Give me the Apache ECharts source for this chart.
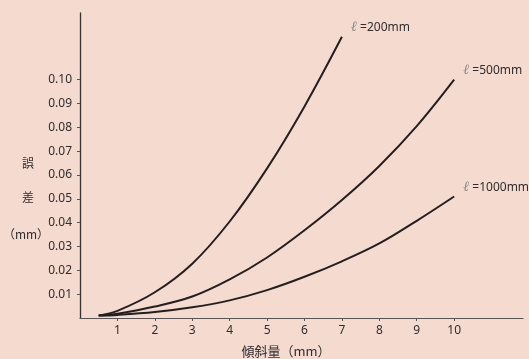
<!DOCTYPE html>
<html>
<head>
<meta charset="utf-8">
<script src="https://cdn.jsdelivr.net/npm/echarts@6/dist/echarts.min.js"></script>
<style>
  html, body { margin: 0; padding: 0; background: #f5dacf; }
  #chart { width: 529px; height: 359px; }
</style>
</head>
<body>
<div id="chart"></div>
<script>
// 傾斜量 (mm)
const tilt200 = [0.5, 1, 2, 3, 4, 5, 6, 7];
const tilt = [0.5, 1, 2, 3, 4, 5, 6, 7, 8, 9, 10];
// 誤差 (mm)
const err200 = [0.001, 0.003, 0.0108, 0.0228, 0.0405, 0.0628, 0.0888, 0.118];
const err500 = [0.001, 0.0018, 0.0048, 0.009, 0.0162, 0.0254, 0.0368, 0.0495, 0.0638, 0.0805, 0.1];
const err1000 = [0.001, 0.0013, 0.0025, 0.0045, 0.0074, 0.0117, 0.0173, 0.0238, 0.0313, 0.0408, 0.051];
const xTicks = [1, 2, 3, 4, 5, 6, 7, 8, 9, 10];
const yTicks = [0.01, 0.02, 0.03, 0.04, 0.05, 0.06, 0.07, 0.08, 0.09, 0.1];
const seriesNames = ["=200mm", "=500mm", "=1000mm"];

const textColor = "#2e2e2e";
const lineColor = "#231f20";

function pairs(xs, ys) {
  return xs.map((x, i) => [x, ys[i]]);
}

function lineSeries(name, data) {
  return {
    name: name,
    type: "line",
    data: data,
    smooth: 0.35,
    symbol: "none",
    lineStyle: { color: lineColor, width: 2 },
    endLabel: {
      show: true,
      distance: 0,
      offset: [9, -9],
      formatter: "{l|ℓ} {t|" + name + "}",
      rich: {
        l: { color: "#888", fontSize: 14, fontStyle: "italic", fontFamily: "DejaVu Serif" },
        t: { color: textColor, fontSize: 12, fontFamily: "Noto Sans" },
      },
    },
  };
}

const chart = echarts.init(document.getElementById("chart"));
chart.setOption({
  backgroundColor: "#f5dacf",
  animation: false,
  grid: { left: 80, top: 13, right: 6, bottom: 41 },
  xAxis: {
    type: "value",
    min: 0,
    max: 11.84,
    splitLine: { show: false },
    axisLine: { lineStyle: { color: "#555", width: 1.2 } },
    axisTick: { show: true, length: 3, customValues: xTicks, lineStyle: { color: "#555" } },
    axisLabel: {
      customValues: xTicks,
      color: textColor,
      fontSize: 12,
      fontFamily: "Noto Sans",
      margin: 7,
    },
  },
  yAxis: {
    type: "value",
    min: 0,
    max: 0.128,
    splitLine: { show: false },
    axisLine: { show: true, lineStyle: { color: "#333", width: 1.3 } },
    axisTick: { show: true, length: 3, customValues: yTicks, lineStyle: { color: "#555" } },
    axisLabel: {
      customValues: yTicks,
      color: textColor,
      fontSize: 12,
      fontFamily: "Noto Sans",
      margin: 8,
      formatter: (v) => v.toFixed(2),
    },
  },
  graphic: [
    { type: "text", x: 28, y: 163, style: { text: "誤", fill: textColor, fontSize: 12, fontFamily: "Noto Sans CJK JP", align: "center", verticalAlign: "middle" } },
    { type: "text", x: 28, y: 197, style: { text: "差", fill: textColor, fontSize: 12, fontFamily: "Noto Sans CJK JP", align: "center", verticalAlign: "middle" } },
    { type: "text", x: 26, y: 234, style: { text: "（mm）", fill: textColor, fontSize: 12, fontFamily: "Noto Sans CJK JP", align: "center", verticalAlign: "middle" } },
    { type: "text", x: 286, y: 351, style: { text: "傾斜量（mm）", fill: textColor, fontSize: 13, fontFamily: "Noto Sans CJK JP", align: "center", verticalAlign: "middle" } },
  ],
  series: [
    lineSeries(seriesNames[0], pairs(tilt200, err200)),
    lineSeries(seriesNames[1], pairs(tilt, err500)),
    lineSeries(seriesNames[2], pairs(tilt, err1000)),
  ],
});
</script>
</body>
</html>
